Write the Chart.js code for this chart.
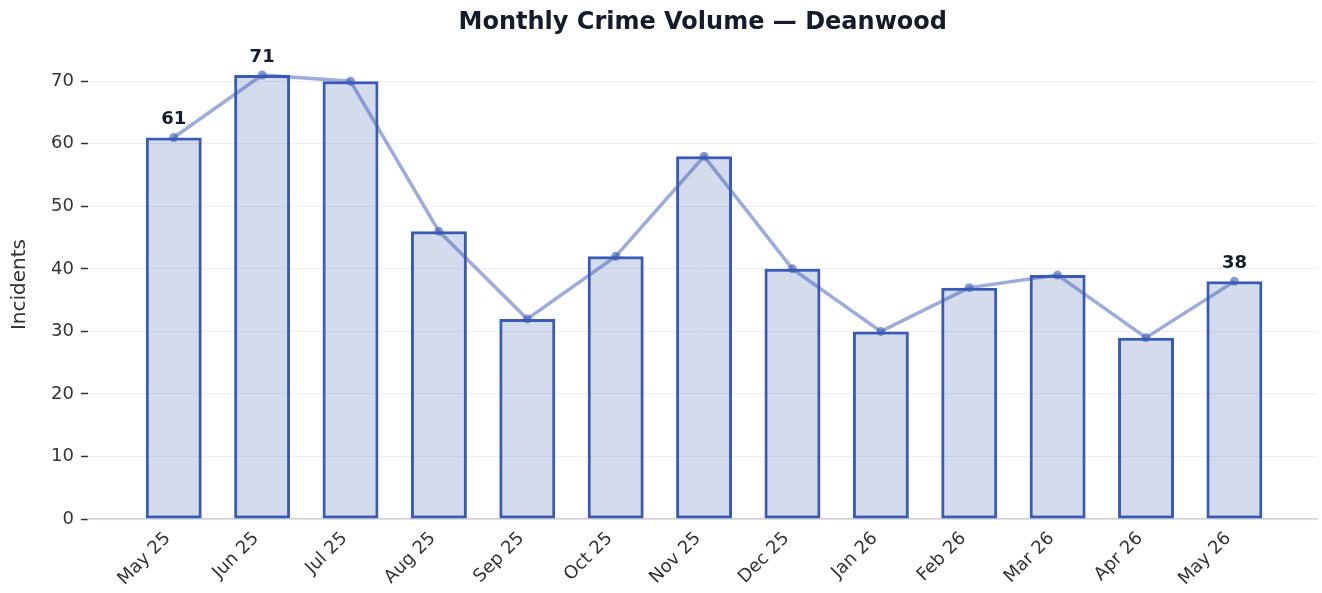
<!DOCTYPE html>
<html>
<head>
<meta charset="utf-8">
<script src="https://cdn.jsdelivr.net/npm/chart.js@4"></script>
<style>
html,body{margin:0;padding:0;background:#fff;}
#wrap{width:1322px;height:593px;}
</style>
</head>
<body>
<div id="wrap"><canvas id="c"></canvas></div>
<script>
const categories = ["May 25","Jun 25","Jul 25","Aug 25","Sep 25","Oct 25","Nov 25","Dec 25","Jan 26","Feb 26","Mar 26","Apr 26","May 26"];
const incidents = [61,71,70,46,32,42,58,40,30,37,39,29,38];
const yTicks = [0,10,20,30,40,50,60,70];
const chartTitle = "Monthly Crime Volume \u2014 Deanwood";
const yTitle = "Incidents";

const pts = incidents.map((v,i)=>({x:i,y:v}));
const maxIdx = incidents.indexOf(Math.max(...incidents));
const labelIdx = [0, maxIdx, incidents.length-1];

const FONT = "'DejaVu Sans', sans-serif";

const labelPlugin = {
  id:'valLabels',
  afterDatasetsDraw(chart){
    const meta = chart.getDatasetMeta(1);
    const ctx = chart.ctx;
    ctx.save();
    ctx.font = "bold 18px " + FONT;
    ctx.fillStyle = "#161b2b";
    ctx.textAlign = "center";
    ctx.textBaseline = "bottom";
    labelIdx.forEach(i=>{
      const el = meta.data[i];
      ctx.fillText(String(incidents[i]), el.x, el.y - 9);
    });
    // title centred over plot area
    const ca = chart.chartArea;
    ctx.font = "bold 24px " + FONT;
    ctx.textBaseline = "middle";
    ctx.fillText(chartTitle, (ca.left + ca.right)/2, 23);
    ctx.restore();
  }
};

new Chart(document.getElementById('c'), {
  data:{
    datasets:[
      {
        type:'bar',
        data:pts,
        backgroundColor:'rgba(59,89,172,0.22)',
        borderColor:'#3a5bb5',
        borderWidth:3,
        borderSkipped:false,
        barPercentage:0.633,
        categoryPercentage:1,
        order:2
      },
      {
        type:'line',
        data:pts,
        borderColor:'rgba(59,89,182,0.5)',
        borderWidth:3.5,
        pointRadius:4.5,
        pointBackgroundColor:'rgba(59,89,182,0.6)',
        pointBorderWidth:0,
        tension:0,
        order:1
      }
    ]
  },
  options:{
    responsive:true,
    maintainAspectRatio:false,
    animation:false,
    layout:{padding:{left:0,right:4,top:50,bottom:0}},
    plugins:{
      legend:{display:false},
      tooltip:{enabled:false},
      title:{display:false}
    },
    scales:{
      x:{
        type:'linear',
        offset:false,
        min:-0.97,
        max:12.94,
        afterBuildTicks(s){ s.ticks = categories.map((_,i)=>({value:i})); },
        afterFit(s){ s.height = 74; },
        ticks:{
          callback:(v)=>categories[v],
          maxRotation:45,minRotation:45,
          autoSkip:false,
          color:'#333',
          font:{family:FONT,size:18},
          padding:9,
          labelOffset:-6
        },
        grid:{display:true,color:'rgba(0,0,0,0)',drawTicks:false},
        border:{display:true,color:'#cfd2dc',width:1.5}
      },
      y:{
        min:0,max:75,
        afterBuildTicks(s){ s.ticks = yTicks.map(v=>({value:v})); },
        afterFit(s){ s.width = 88; },
        ticks:{color:'#333',font:{family:FONT,size:18},padding:7},
        grid:{color:'#eceef3',lineWidth:1,tickColor:'#333',tickLength:7,tickWidth:1.5},
        border:{display:false},
        title:{display:true,text:yTitle,color:'#333',font:{family:FONT,size:20},padding:{top:8,bottom:0}}
      }
    }
  },
  plugins:[labelPlugin]
});
</script>
</body>
</html>
